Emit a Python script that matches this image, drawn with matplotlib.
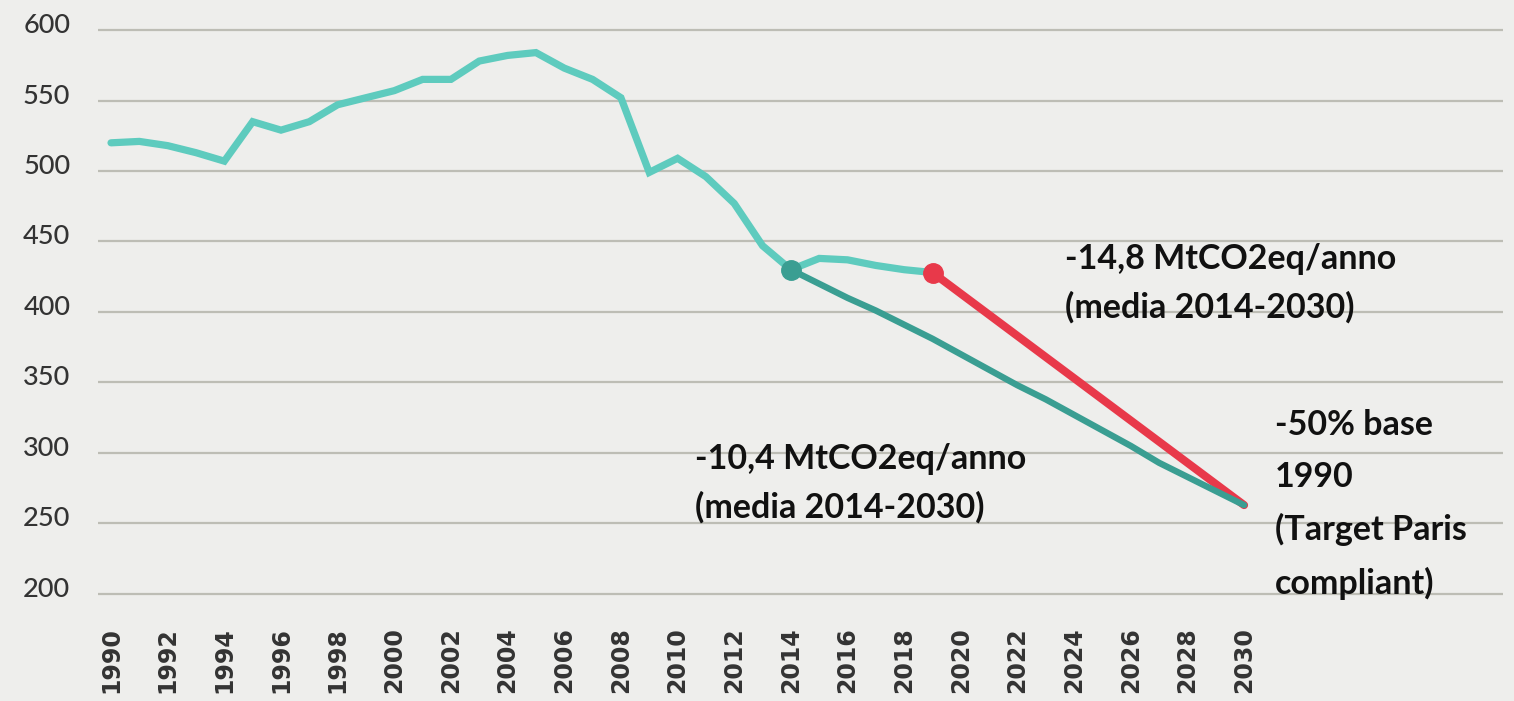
import numpy as np
import matplotlib.pyplot as plt
import matplotlib.transforms as mtransforms

# historical emissions (MtCO2eq)
years_hist = list(range(1990, 2020))
emis_hist = [520, 521, 518, 513, 507, 535, 529, 535, 547, 552,
             557, 565, 565, 578, 582, 584, 573, 565, 552, 499,
             509, 496, 477, 447, 430, 438, 437, 433, 430, 428]

# path 2014-2030 (-10,4 /anno)
years_a = list(range(2014, 2031))
emis_a = [430, 420, 410, 401, 391, 381, 370, 359, 348, 338,
          327, 316, 305, 293, 283, 273, 263]

# path 2019-2030 (-14,8 /anno)
years_b = list(range(2019, 2031))
emis_b = [428, 413, 398, 383, 368, 353, 338, 323, 308, 293, 278, 263]

xticks = list(range(1990, 2031, 2))
yticks = [200, 250, 300, 350, 400, 450, 500, 550, 600]

bg = '#eeeeec'
light = '#5ecbbe'
dark = '#3a9e92'
red = '#e8394a'

fig = plt.figure(figsize=(15.14, 7.01), dpi=100, facecolor=bg)
ax = fig.add_axes([98/1514, 0.1427, 1405/1514, 0.8245], facecolor=bg)

ax.plot(years_b, emis_b, color=red, lw=5.8, solid_capstyle='round', zorder=3)
ax.plot(years_a, emis_a, color=dark, lw=4.6, solid_capstyle='round', zorder=4)
ax.plot(years_hist, emis_hist, color=light, lw=5.2, solid_capstyle='round',
        solid_joinstyle='miter', zorder=5)
ax.plot([years_a[0]], [emis_a[0]], 'o', ms=14, color=dark, zorder=6)
ax.plot([years_b[0]], [emis_b[0]], 'o', ms=14, color=red, zorder=6)

ax.set_xlim(1989.54, 2039.14)
ax.set_ylim(195, 605)
ax.set_xticks(xticks)
ax.set_yticks(yticks)
ax.set_xticklabels([str(y) for y in xticks], rotation=90, fontsize=17,
                   fontweight='bold', family='DejaVu Sans', color='#333333')
ax.set_yticklabels([str(y) for y in yticks], fontsize=19.5, family='Lato',
                   fontweight='medium', color='#333333')
ax.tick_params(axis='both', length=0)
ax.tick_params(axis='y', pad=20)
ax.tick_params(axis='x', pad=19)
offset = mtransforms.ScaledTranslation(0, 7/100, fig.dpi_scale_trans)
for lab in ax.get_yticklabels():
    lab.set_transform(lab.get_transform() + offset)

ax.grid(axis='y', color='#bdbdb5', lw=1.6)
ax.set_axisbelow(True)
for s in ax.spines.values():
    s.set_visible(False)

tkw = dict(fontsize=24.5, fontweight='bold', family='Lato', color='#111111',
           va='top', ha='left', zorder=7)
ax.text(2023.67, 449, '-14,8 MtCO2eq/anno\n(media 2014-2030)',
        linespacing=1.6, **tkw)
ax.text(2010.61, 307, '-10,4 MtCO2eq/anno\n(media 2014-2030)',
        linespacing=1.6, **tkw)
ax.text(2031.09, 331, '-50% base\n1990\n(Target Paris\ncompliant)',
        linespacing=1.75, **tkw)

fig.savefig('out.png', dpi=100, facecolor=bg)
